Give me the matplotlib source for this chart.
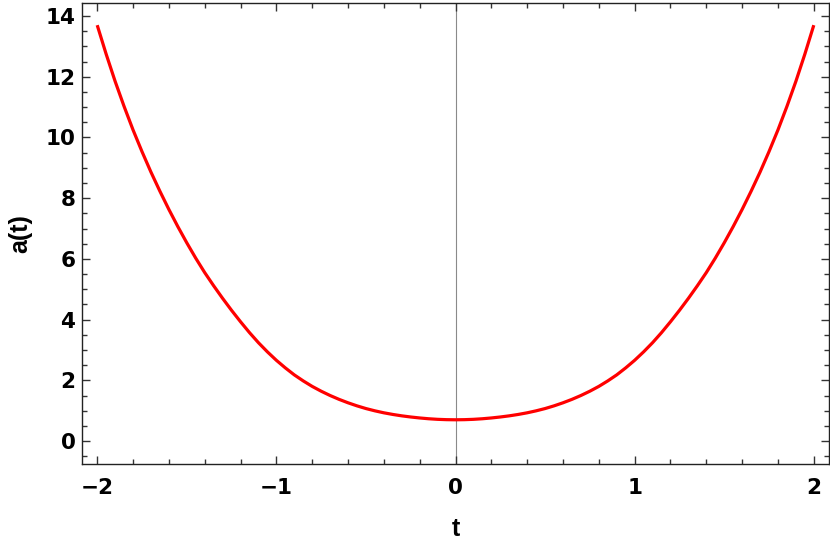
import matplotlib
matplotlib.use("Agg")
import matplotlib.pyplot as plt
from matplotlib.ticker import MultipleLocator

# Values
t_vals = [-2.00, -1.95, -1.90, -1.85, -1.80, -1.75, -1.70, -1.65, -1.60, -1.55,
          -1.50, -1.45, -1.40, -1.35, -1.30, -1.25, -1.20, -1.15, -1.10, -1.05,
          -1.00, -0.95, -0.90, -0.85, -0.80, -0.75, -0.70, -0.65, -0.60, -0.55,
          -0.50, -0.45, -0.40, -0.35, -0.30, -0.25, -0.20, -0.15, -0.10, -0.05,
          0.00,
          0.05, 0.10, 0.15, 0.20, 0.25, 0.30, 0.35, 0.40, 0.45, 0.50,
          0.55, 0.60, 0.65, 0.70, 0.75, 0.80, 0.85, 0.90, 0.95, 1.00,
          1.05, 1.10, 1.15, 1.20, 1.25, 1.30, 1.35, 1.40, 1.45, 1.50,
          1.55, 1.60, 1.65, 1.70, 1.75, 1.80, 1.85, 1.90, 1.95, 2.00]
a_vals = [13.70, 12.745, 11.85, 11.024, 10.25, 9.535, 8.86, 8.229, 7.63, 7.065,
          6.53, 6.024, 5.55, 5.115, 4.70, 4.305, 3.93, 3.572, 3.24, 2.938,
          2.66, 2.41, 2.18, 1.981, 1.80, 1.642, 1.50, 1.373, 1.26, 1.159,
          1.07, 0.995, 0.93, 0.876, 0.83, 0.792, 0.76, 0.734, 0.715, 0.704,
          0.70,
          0.704, 0.715, 0.734, 0.76, 0.792, 0.83, 0.876, 0.93, 0.995, 1.07,
          1.159, 1.26, 1.373, 1.50, 1.642, 1.80, 1.981, 2.18, 2.41, 2.66,
          2.938, 3.24, 3.572, 3.93, 4.305, 4.70, 5.115, 5.55, 6.024, 6.53,
          7.065, 7.63, 8.229, 8.86, 9.535, 10.25, 11.024, 11.85, 12.745, 13.70]
x_ticks = [-2, -1, 0, 1, 2]
y_ticks = [0, 2, 4, 6, 8, 10, 12, 14]

plt.rcParams['font.family'] = ['Liberation Sans', 'DejaVu Sans']
plt.rcParams['font.weight'] = 'bold'

fig = plt.figure(figsize=(8.30, 5.49), dpi=100)
ax = fig.add_axes([0.0992, 0.1548, 0.8992, 0.8403])

ax.axvline(0, color='#8a8a8a', lw=0.8, zorder=1)
ax.plot(t_vals, a_vals, color='#ff0000', lw=2.3, zorder=3,
        solid_capstyle='butt', solid_joinstyle='round')

ax.set_xlim(-2.083, 2.083)
ax.set_ylim(-0.757, 14.44)

ax.set_xticks(x_ticks)
ax.set_yticks(y_ticks)
ax.xaxis.set_minor_locator(MultipleLocator(0.2))
ax.yaxis.set_minor_locator(MultipleLocator(0.5))
ax.set_xticklabels([f"{v}".replace('-', '\u2212') for v in x_ticks])
ax.set_yticklabels([str(v) for v in y_ticks])

ax.tick_params(which='both', direction='in', top=True, right=True, color='#333333', width=1.0)
ax.tick_params(which='major', length=6)
ax.tick_params(which='minor', length=3.5)
ax.tick_params(axis='x', which='major', pad=10)
ax.tick_params(axis='y', which='major', pad=5)
for lbl in ax.get_xticklabels() + ax.get_yticklabels():
    lbl.set_family(['DejaVu Sans'])
    lbl.set_fontweight('bold')
    lbl.set_fontsize(15.5)

for sp in ax.spines.values():
    sp.set_color('#222222')
    sp.set_linewidth(1.0)

ax.set_xlabel('t', fontsize=18, fontweight='bold', va='center')
ax.set_ylabel('a(t)', fontsize=18, fontweight='bold', va='center')
ax.xaxis.set_label_coords(0.5, (464 - 529) / 461.3)
ax.yaxis.set_label_coords((20 - 82.3) / 746.4, 0.5)

fig.savefig('out.png', dpi=100)
